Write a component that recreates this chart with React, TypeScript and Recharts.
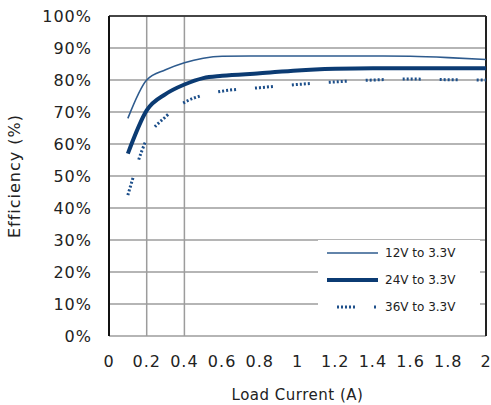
import {
  LineChart,
  Line,
  XAxis,
  YAxis,
  CartesianGrid,
  ReferenceLine,
} from "recharts";

const loadCurrent = [0.1, 0.2, 0.3, 0.4, 0.5, 0.6, 0.8, 1.0, 1.2, 1.4, 1.6, 1.8, 2.0];
const eff12to33 = [68, 80, 83.2, 85.4, 86.8, 87.4, 87.5, 87.5, 87.5, 87.5, 87.4, 87, 86.4];
const eff24to33 = [57, 70.5, 75.6, 78.6, 80.6, 81.3, 82.1, 83, 83.5, 83.7, 83.7, 83.7, 83.7];
const eff36to33 = [44, 61.5, 68.5, 73, 75.3, 76.5, 77.6, 78.6, 79.4, 80, 80.3, 80.1, 80];

const xTicks = [0, 0.2, 0.4, 0.6, 0.8, 1, 1.2, 1.4, 1.6, 1.8, 2];
const yTicks = [0, 10, 20, 30, 40, 50, 60, 70, 80, 90, 100];

const seriesNames = ["12V to 3.3V", "24V to 3.3V", "36V to 3.3V"];

const data = loadCurrent.map((x, i) => ({
  x,
  a: eff12to33[i],
  b: eff24to33[i],
  c: eff36to33[i],
}));

const thinColor = "#2e5b8e";
const thickColor = "#0b3b73";
const dotColor = "#1d4f8a";
const dotDash = "2 2 2 2 2 2 2 2 2 19";
const font = "'DejaVu Sans', Verdana, sans-serif";

const tickStyle = { fontSize: 16, fill: "#222", fontFamily: font, letterSpacing: 1 };

function LegendBox() {
  const rows = [
    { name: seriesNames[0], color: thinColor, width: 1.6, dash: undefined, x1: 327 },
    { name: seriesNames[1], color: thickColor, width: 4, dash: undefined, x1: 327 },
    { name: seriesNames[2], color: dotColor, width: 3, dash: dotDash, x1: 337 },
  ];
  return (
    <div
      style={{
        position: "absolute",
        left: 318,
        top: 240,
        width: 162,
        height: 80,
        background: "#fff",
      }}
    >
      <svg width={162} height={80}>
        {rows.map((r, i) => (
          <g key={r.name}>
            <line
              x1={r.x1 - 318}
              x2={378 - 318}
              y1={13 + i * 27}
              y2={13 + i * 27}
              stroke={r.color}
              strokeWidth={r.width}
              strokeDasharray={r.dash}
            />
            <text
              x={67}
              y={13 + i * 27}
              dy="0.35em"
              fontSize={12}
              fill="#222"
              fontFamily={font}
            >
              {r.name}
            </text>
          </g>
        ))}
      </svg>
    </div>
  );
}

export default function App() {
  return (
    <div style={{ position: "absolute", left: 0, top: 0, width: 491, height: 405, background: "#fff" }}>
      <LineChart
        width={491}
        height={405}
        data={data}
        margin={{ top: 16, right: 5, bottom: 0, left: 0 }}
      >
        <CartesianGrid vertical={false} stroke="#9c9c9c" strokeWidth={1.5} />
        <ReferenceLine x={0.2} stroke="#9c9c9c" strokeWidth={1.5} />
        <ReferenceLine x={0.4} stroke="#9c9c9c" strokeWidth={1.5} />
        <ReferenceLine y={100} stroke="#222" strokeWidth={1.5} />
        <ReferenceLine x={2} stroke="#222" strokeWidth={2} />
        <XAxis
          dataKey="x"
          type="number"
          domain={[0, 2]}
          ticks={xTicks}
          interval={0}
          axisLine={false}
          tickLine={false}
          height={69}
          tickMargin={14}
          tick={tickStyle}
          label={{
            value: "Load Current (A)",
            position: "insideBottom",
            offset: 5,
            style: { fontSize: 15, fill: "#222", fontFamily: font, letterSpacing: 0.5 },
          }}
        />
        <YAxis
          type="number"
          domain={[0, 100]}
          ticks={yTicks}
          interval={0}
          width={109}
          axisLine={{ stroke: "#111", strokeWidth: 2 }}
          tickLine={false}
          tickMargin={11}
          tick={tickStyle}
          tickFormatter={(v) => `${v}%`}
          label={{
            value: "Efficiency (%)",
            angle: -90,
            position: "insideLeft",
            offset: 14,
            style: { textAnchor: "middle", fontSize: 16, fill: "#222", fontFamily: font, letterSpacing: 1 },
          }}
        />
        <Line
          dataKey="a"
          name={seriesNames[0]}
          type="monotone"
          stroke={thinColor}
          strokeWidth={1.6}
          dot={false}
          isAnimationActive={false}
        />
        <Line
          dataKey="b"
          name={seriesNames[1]}
          type="monotone"
          stroke={thickColor}
          strokeWidth={4}
          dot={false}
          isAnimationActive={false}
        />
        <Line
          dataKey="c"
          name={seriesNames[2]}
          type="monotone"
          stroke={dotColor}
          strokeWidth={3}
          strokeDasharray={dotDash}
          dot={false}
          isAnimationActive={false}
        />
      </LineChart>
      <LegendBox />
    </div>
  );
}
